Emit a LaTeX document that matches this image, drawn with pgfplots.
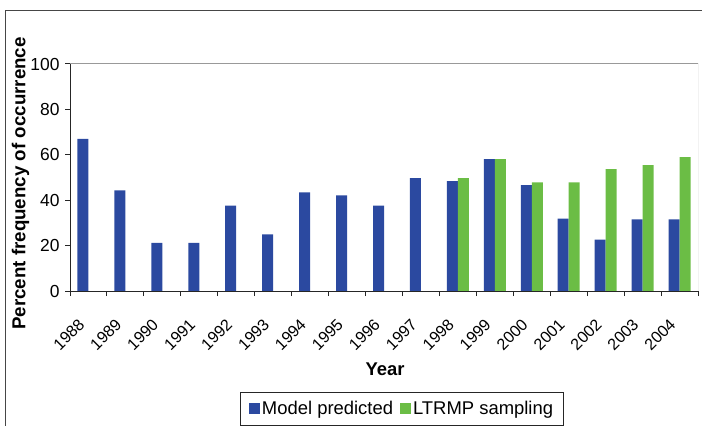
\documentclass[border=0pt]{standalone}
\usepackage{pgfplots}
\pgfplotsset{compat=1.18}
\usepackage{fontspec}
\setmainfont{Liberation Sans}
\definecolor{mblue}{RGB}{43,73,160}
\definecolor{mgreen}{RGB}{107,189,69}
\definecolor{frame}{RGB}{70,70,70}
\begin{document}
\begin{tikzpicture}
\useasboundingbox (0bp,0bp) rectangle (702bp,426bp);
\draw[line width=1bp, frame] (5bp,0bp) -- (5bp,415.5bp) -- (702bp,415.5bp);
\begin{axis}[
  at={(70bp,135bp)}, anchor=south west,
  scale only axis, width=628bp, height=227bp,
  ybar=0pt, bar width=11bp,
  xmin=-0.5, xmax=16.5, ymin=0, ymax=100,
  axis lines*=left, axis line style={-, line width=1bp, black!85},
  xtick={0,...,16},
  xticklabels={1988,1989,1990,1991,1992,1993,1994,1995,1996,1997,1998,1999,2000,2001,2002,2003,2004},
  major x tick style={draw=none},
  minor xtick={-0.5,0.5,1.5,2.5,3.5,4.5,5.5,6.5,7.5,8.5,9.5,10.5,11.5,12.5,13.5,14.5,15.5,16.5},
  minor tick length=5bp, major tick length=5bp,
  tick align=outside,
  tick style={line width=1bp, black!85},
  ytick={0,20,40,60,80,100},
  /pgf/number format/assume math mode=true,
  xticklabel style={font=\fontsize{16.2}{18}\selectfont, xshift=-11bp, yshift=-17bp, rotate=45, anchor=north east},
  yticklabel style={font=\fontsize{17.5}{19}\selectfont, xshift=-2bp},
  xlabel={Year}, ylabel={Percent frequency of occurrence},
  every axis x label/.style={at={(rel axis cs:0.5016,-0.3467)}, anchor=center, font=\bfseries\fontsize{18.5}{20}\selectfont},
  every axis y label/.style={at={(rel axis cs:-0.0788,0.4736)}, rotate=90, anchor=center, font=\bfseries\fontsize{18.8}{20}\selectfont},
  legend columns=2,
  legend style={at={(rel axis cs:0.5287,-0.5198)}, anchor=center, draw=black!85, line width=1bp,
    font=\fontsize{18.5}{20}\selectfont, inner xsep=8bp, inner ysep=7bp,
    /tikz/every even column/.append style={column sep=5bp}},
]
\addplot[fill=mblue, draw=none, legend image code/.code={\fill[mblue] (0bp,-5.5bp) rectangle (11bp,5.5bp);}]
  coordinates {(0,67) (1,44.3) (2,21.2) (3,21.2) (4,37.6) (5,24.9) (6,43.4) (7,42.1) (8,37.6) (9,49.7)
    (10,48.4) (11,58.1) (12,46.6) (13,31.9) (14,22.6) (15,31.5) (16,31.5)};
\addplot[fill=mgreen, draw=none, legend image code/.code={\fill[mgreen] (0bp,-5.5bp) rectangle (11bp,5.5bp);}]
  coordinates {(10,49.7) (11,58.1) (12,47.8) (13,47.8) (14,53.7) (15,55.4) (16,59.0)};
\draw[line width=1bp, black!40] (rel axis cs:0,1) -- (rel axis cs:1,1) -- (rel axis cs:1,0);
\legend{Model predicted, LTRMP sampling}
\end{axis}
\end{tikzpicture}
\end{document}
